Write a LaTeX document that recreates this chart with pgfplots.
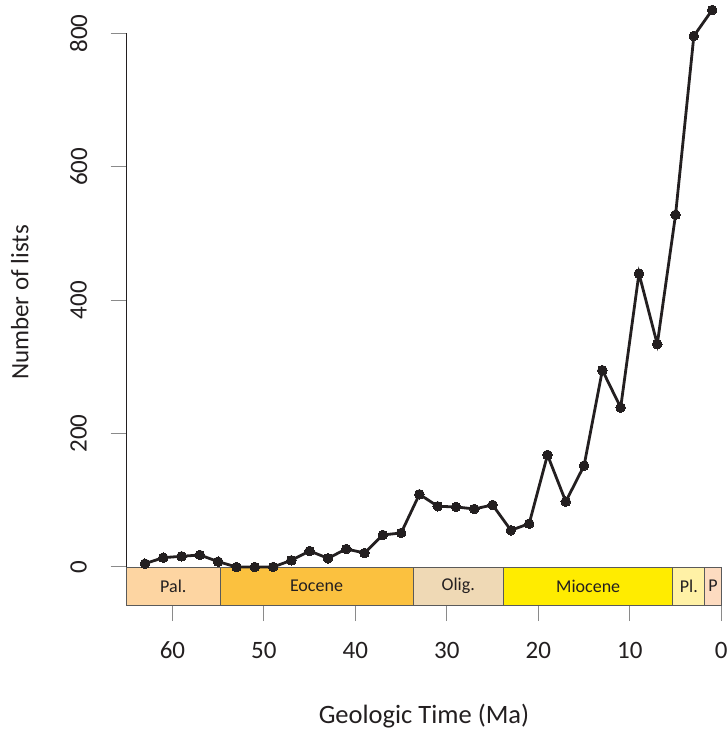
\documentclass[border=0pt]{standalone}
\usepackage{fontspec}
\setmainfont{Carlito}
\usepackage{pgfplots}
\pgfplotsset{compat=1.18}
\definecolor{linec}{HTML}{231F20}
\definecolor{txt}{HTML}{231F20}
\definecolor{tickc}{HTML}{8A8A8A}
\definecolor{edgec}{HTML}{5A5A5A}
\definecolor{cPal}{HTML}{FDD5A2}
\definecolor{cEoc}{HTML}{FBC13F}
\definecolor{cOli}{HTML}{EFD9B5}
\definecolor{cMio}{HTML}{FFEC00}
\definecolor{cPli}{HTML}{FFF1A6}
\definecolor{cPle}{HTML}{FDDBC0}
\begin{document}
\begin{tikzpicture}
\useasboundingbox (-126.7pt,-126pt) rectangle (601.3pt,605pt);
\begin{axis}[
  at={(0,0)}, anchor=south west,
  scale only axis, width=594.6pt, height=605pt,
  xmin=0, xmax=65, x dir=reverse,
  ymin=-57, ymax=850,
  clip=false,
  axis line style={draw=none},
  xtick={0,10,20,30,40,50,60},
  ytick={0,200,400,600,800},
  xtick pos=lower, ytick pos=left,
  tick align=outside,
  major tick length=16pt,
  tick style={tickc, line width=1pt},
  /pgf/number format/assume math mode=true,
  ticklabel style={font=\fontsize{25}{29}\selectfont, text=txt},
  xticklabel style={anchor=center, yshift=-29pt},
  yticklabel style={rotate=90, anchor=center, yshift=32pt},
  xlabel={Geologic Time (Ma)},
  ylabel={Number of lists},
  xlabel style={font=\fontsize{26.5}{30}\selectfont, text=txt, at={(axis description cs:0.5,0)}, anchor=center, yshift=-111pt},
  ylabel style={font=\fontsize{25}{29}\selectfont, text=txt, at={(axis description cs:0,0.5)}, anchor=center, yshift=107pt},
]
\draw[linec, line width=1.2pt] (axis cs:65,0) -- (axis cs:65,800);
\draw[edgec, line width=0.9pt, fill=cPal] (axis cs:65,0) rectangle (axis cs:54.8,-57);
\draw[edgec, line width=0.9pt, fill=cEoc] (axis cs:54.8,0) rectangle (axis cs:33.7,-57);
\draw[edgec, line width=0.9pt, fill=cOli] (axis cs:33.7,0) rectangle (axis cs:23.8,-57);
\draw[edgec, line width=0.9pt, fill=cMio] (axis cs:23.8,0) rectangle (axis cs:5.3,-57);
\draw[edgec, line width=0.9pt, fill=cPli] (axis cs:5.3,0) rectangle (axis cs:1.8,-57);
\draw[edgec, line width=0.9pt, fill=cPle] (axis cs:1.8,0) rectangle (axis cs:0,-57);
\begin{scope}[every node/.style={font=\fontsize{18}{20}\selectfont, text=txt}]
\node at (axis cs:59.9,-28.5) {Pal.};
\node at (axis cs:44.25,-28.5) {Eocene};
\node at (axis cs:28.75,-28.5) {Olig.};
\node at (axis cs:14.55,-28.5) {Miocene};
\node at (axis cs:3.55,-28.5) {Pl.};
\node at (axis cs:0.9,-28.5) {P};
\end{scope}
\addplot[linec, line width=2.8pt, mark=*, mark size=4.8pt, mark options={fill=linec, draw=linec, line width=0pt}]
coordinates {
(63,5) (61,14) (59,16) (57,18) (55,8) (53,0) (51,0) (49,0)
(47,10) (45,24) (43,13) (41,27) (39,21) (37,48) (35,51) (33,109)
(31,91) (29,90) (27,87) (25,93) (23,55) (21,65) (19,168) (17,98)
(15,152) (13,295) (11,239) (9,440) (7,334) (5,528) (3,796) (1,835)
};
\end{axis}
\end{tikzpicture}
\end{document}
